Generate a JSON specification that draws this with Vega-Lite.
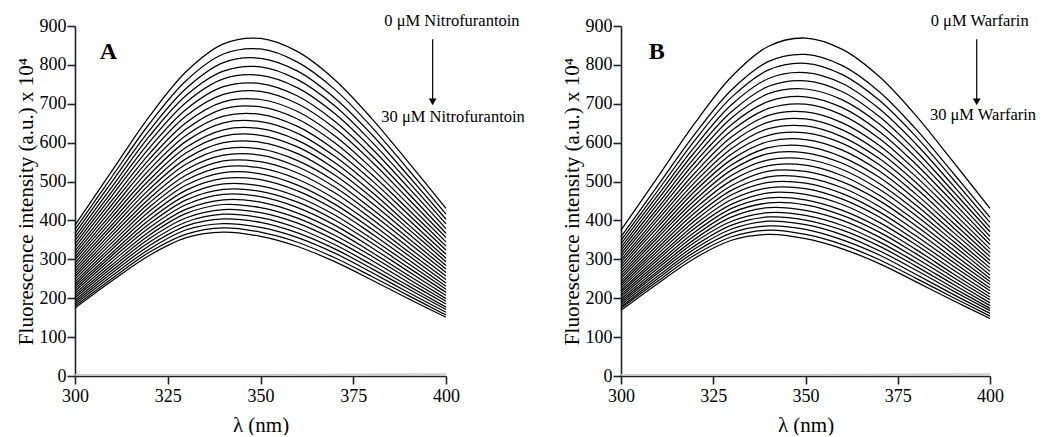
{
"$schema":"https://vega.github.io/schema/vega-lite/v6.json",
"padding":{"left":15,"top":13,"right":0,"bottom":0},
"bounds":"flush",
"spacing":175,
"config":{"font":"Liberation Serif","view":{"stroke":null},
"axis":{"domainColor":"#222","domainWidth":1.6,"tickColor":"#222","tickWidth":1.6,"tickSize":8,"labelFont":"Liberation Serif","labelFontSize":18,"labelColor":"black","titleFont":"Liberation Serif","titleFontSize":21,"titleFontWeight":"normal","titleColor":"black","grid":false,"labelFlush":false,"labelOverlap":false},
"axisY":{"titlePadding":3,"labelPadding":1},
"axisX":{"titlePadding":9,"labelPadding":3}},
"datasets":{
"Z":[{"w":300,"f":3},{"w":350,"f":3},{"w":400,"f":5}],
"A":[
{"c":0,"w":300,"f":388},{"c":0,"w":310,"f":528},{"c":0,"w":320,"f":667},{"c":0,"w":330,"f":783},{"c":0,"w":340,"f":854},{"c":0,"w":350,"f":868},{"c":0,"w":360,"f":834},{"c":0,"w":370,"f":762},{"c":0,"w":380,"f":662},{"c":0,"w":390,"f":548},{"c":0,"w":400,"f":431},
{"c":1,"w":300,"f":377},{"c":1,"w":310,"f":513},{"c":1,"w":320,"f":648},{"c":1,"w":330,"f":760},{"c":1,"w":340,"f":828},{"c":1,"w":350,"f":841},{"c":1,"w":360,"f":807},{"c":1,"w":370,"f":737},{"c":1,"w":380,"f":640},{"c":1,"w":390,"f":529},{"c":1,"w":400,"f":416},
{"c":2,"w":300,"f":367},{"c":2,"w":310,"f":500},{"c":2,"w":320,"f":631},{"c":2,"w":330,"f":740},{"c":2,"w":340,"f":806},{"c":2,"w":350,"f":817},{"c":2,"w":360,"f":784},{"c":2,"w":370,"f":715},{"c":2,"w":380,"f":621},{"c":2,"w":390,"f":513},{"c":2,"w":400,"f":403},
{"c":3,"w":300,"f":357},{"c":3,"w":310,"f":487},{"c":3,"w":320,"f":616},{"c":3,"w":330,"f":722},{"c":3,"w":340,"f":784},{"c":3,"w":350,"f":795},{"c":3,"w":360,"f":762},{"c":3,"w":370,"f":695},{"c":3,"w":380,"f":602},{"c":3,"w":390,"f":498},{"c":3,"w":400,"f":391},
{"c":4,"w":300,"f":348},{"c":4,"w":310,"f":475},{"c":4,"w":320,"f":601},{"c":4,"w":330,"f":704},{"c":4,"w":340,"f":764},{"c":4,"w":350,"f":773},{"c":4,"w":360,"f":741},{"c":4,"w":370,"f":675},{"c":4,"w":380,"f":585},{"c":4,"w":390,"f":483},{"c":4,"w":400,"f":379},
{"c":5,"w":300,"f":339},{"c":5,"w":310,"f":464},{"c":5,"w":320,"f":586},{"c":5,"w":330,"f":686},{"c":5,"w":340,"f":744},{"c":5,"w":350,"f":752},{"c":5,"w":360,"f":720},{"c":5,"w":370,"f":655},{"c":5,"w":380,"f":567},{"c":5,"w":390,"f":468},{"c":5,"w":400,"f":367},
{"c":6,"w":300,"f":331},{"c":6,"w":310,"f":452},{"c":6,"w":320,"f":571},{"c":6,"w":330,"f":669},{"c":6,"w":340,"f":724},{"c":6,"w":350,"f":732},{"c":6,"w":360,"f":700},{"c":6,"w":370,"f":637},{"c":6,"w":380,"f":551},{"c":6,"w":390,"f":454},{"c":6,"w":400,"f":356},
{"c":7,"w":300,"f":322},{"c":7,"w":310,"f":441},{"c":7,"w":320,"f":557},{"c":7,"w":330,"f":652},{"c":7,"w":340,"f":705},{"c":7,"w":350,"f":711},{"c":7,"w":360,"f":680},{"c":7,"w":370,"f":618},{"c":7,"w":380,"f":534},{"c":7,"w":390,"f":440},{"c":7,"w":400,"f":345},
{"c":8,"w":300,"f":314},{"c":8,"w":310,"f":430},{"c":8,"w":320,"f":544},{"c":8,"w":330,"f":635},{"c":8,"w":340,"f":687},{"c":8,"w":350,"f":692},{"c":8,"w":360,"f":661},{"c":8,"w":370,"f":600},{"c":8,"w":380,"f":518},{"c":8,"w":390,"f":427},{"c":8,"w":400,"f":334},
{"c":9,"w":300,"f":306},{"c":9,"w":310,"f":419},{"c":9,"w":320,"f":530},{"c":9,"w":330,"f":619},{"c":9,"w":340,"f":668},{"c":9,"w":350,"f":673},{"c":9,"w":360,"f":642},{"c":9,"w":370,"f":582},{"c":9,"w":380,"f":503},{"c":9,"w":390,"f":414},{"c":9,"w":400,"f":324},
{"c":10,"w":300,"f":299},{"c":10,"w":310,"f":409},{"c":10,"w":320,"f":517},{"c":10,"w":330,"f":604},{"c":10,"w":340,"f":651},{"c":10,"w":350,"f":654},{"c":10,"w":360,"f":624},{"c":10,"w":370,"f":565},{"c":10,"w":380,"f":488},{"c":10,"w":390,"f":401},{"c":10,"w":400,"f":313},
{"c":11,"w":300,"f":291},{"c":11,"w":310,"f":399},{"c":11,"w":320,"f":504},{"c":11,"w":330,"f":588},{"c":11,"w":340,"f":633},{"c":11,"w":350,"f":636},{"c":11,"w":360,"f":606},{"c":11,"w":370,"f":549},{"c":11,"w":380,"f":473},{"c":11,"w":390,"f":388},{"c":11,"w":400,"f":303},
{"c":12,"w":300,"f":284},{"c":12,"w":310,"f":389},{"c":12,"w":320,"f":492},{"c":12,"w":330,"f":574},{"c":12,"w":340,"f":617},{"c":12,"w":350,"f":619},{"c":12,"w":360,"f":589},{"c":12,"w":370,"f":533},{"c":12,"w":380,"f":459},{"c":12,"w":390,"f":377},{"c":12,"w":400,"f":294},
{"c":13,"w":300,"f":276},{"c":13,"w":310,"f":380},{"c":13,"w":320,"f":480},{"c":13,"w":330,"f":559},{"c":13,"w":340,"f":600},{"c":13,"w":350,"f":601},{"c":13,"w":360,"f":572},{"c":13,"w":370,"f":517},{"c":13,"w":380,"f":445},{"c":13,"w":390,"f":365},{"c":13,"w":400,"f":284},
{"c":14,"w":300,"f":269},{"c":14,"w":310,"f":370},{"c":14,"w":320,"f":468},{"c":14,"w":330,"f":545},{"c":14,"w":340,"f":584},{"c":14,"w":350,"f":584},{"c":14,"w":360,"f":554},{"c":14,"w":370,"f":501},{"c":14,"w":380,"f":430},{"c":14,"w":390,"f":353},{"c":14,"w":400,"f":275},
{"c":15,"w":300,"f":262},{"c":15,"w":310,"f":361},{"c":15,"w":320,"f":456},{"c":15,"w":330,"f":531},{"c":15,"w":340,"f":568},{"c":15,"w":350,"f":568},{"c":15,"w":360,"f":538},{"c":15,"w":370,"f":486},{"c":15,"w":380,"f":417},{"c":15,"w":390,"f":342},{"c":15,"w":400,"f":266},
{"c":16,"w":300,"f":256},{"c":16,"w":310,"f":352},{"c":16,"w":320,"f":445},{"c":16,"w":330,"f":517},{"c":16,"w":340,"f":553},{"c":16,"w":350,"f":551},{"c":16,"w":360,"f":522},{"c":16,"w":370,"f":471},{"c":16,"w":380,"f":404},{"c":16,"w":390,"f":330},{"c":16,"w":400,"f":257},
{"c":17,"w":300,"f":249},{"c":17,"w":310,"f":343},{"c":17,"w":320,"f":434},{"c":17,"w":330,"f":504},{"c":17,"w":340,"f":538},{"c":17,"w":350,"f":535},{"c":17,"w":360,"f":506},{"c":17,"w":370,"f":456},{"c":17,"w":380,"f":391},{"c":17,"w":390,"f":319},{"c":17,"w":400,"f":248},
{"c":18,"w":300,"f":242},{"c":18,"w":310,"f":334},{"c":18,"w":320,"f":423},{"c":18,"w":330,"f":491},{"c":18,"w":340,"f":523},{"c":18,"w":350,"f":520},{"c":18,"w":360,"f":491},{"c":18,"w":370,"f":442},{"c":18,"w":380,"f":378},{"c":18,"w":390,"f":309},{"c":18,"w":400,"f":239},
{"c":19,"w":300,"f":236},{"c":19,"w":310,"f":326},{"c":19,"w":320,"f":412},{"c":19,"w":330,"f":478},{"c":19,"w":340,"f":508},{"c":19,"w":350,"f":505},{"c":19,"w":360,"f":476},{"c":19,"w":370,"f":428},{"c":19,"w":380,"f":366},{"c":19,"w":390,"f":298},{"c":19,"w":400,"f":231},
{"c":20,"w":300,"f":230},{"c":20,"w":310,"f":317},{"c":20,"w":320,"f":401},{"c":20,"w":330,"f":465},{"c":20,"w":340,"f":494},{"c":20,"w":350,"f":489},{"c":20,"w":360,"f":461},{"c":20,"w":370,"f":414},{"c":20,"w":380,"f":353},{"c":20,"w":390,"f":288},{"c":20,"w":400,"f":223},
{"c":21,"w":300,"f":224},{"c":21,"w":310,"f":310},{"c":21,"w":320,"f":391},{"c":21,"w":330,"f":453},{"c":21,"w":340,"f":480},{"c":21,"w":350,"f":475},{"c":21,"w":360,"f":447},{"c":21,"w":370,"f":401},{"c":21,"w":380,"f":342},{"c":21,"w":390,"f":278},{"c":21,"w":400,"f":215},
{"c":22,"w":300,"f":218},{"c":22,"w":310,"f":302},{"c":22,"w":320,"f":381},{"c":22,"w":330,"f":441},{"c":22,"w":340,"f":467},{"c":22,"w":350,"f":461},{"c":22,"w":360,"f":433},{"c":22,"w":370,"f":388},{"c":22,"w":380,"f":330},{"c":22,"w":390,"f":268},{"c":22,"w":400,"f":207},
{"c":23,"w":300,"f":212},{"c":23,"w":310,"f":294},{"c":23,"w":320,"f":371},{"c":23,"w":330,"f":429},{"c":23,"w":340,"f":453},{"c":23,"w":350,"f":447},{"c":23,"w":360,"f":419},{"c":23,"w":370,"f":375},{"c":23,"w":380,"f":318},{"c":23,"w":390,"f":258},{"c":23,"w":400,"f":199},
{"c":24,"w":300,"f":206},{"c":24,"w":310,"f":286},{"c":24,"w":320,"f":362},{"c":24,"w":330,"f":418},{"c":24,"w":340,"f":441},{"c":24,"w":350,"f":433},{"c":24,"w":360,"f":406},{"c":24,"w":370,"f":362},{"c":24,"w":380,"f":308},{"c":24,"w":390,"f":249},{"c":24,"w":400,"f":192},
{"c":25,"w":300,"f":201},{"c":25,"w":310,"f":279},{"c":25,"w":320,"f":353},{"c":25,"w":330,"f":407},{"c":25,"w":340,"f":428},{"c":25,"w":350,"f":420},{"c":25,"w":360,"f":393},{"c":25,"w":370,"f":350},{"c":25,"w":380,"f":297},{"c":25,"w":390,"f":240},{"c":25,"w":400,"f":185},
{"c":26,"w":300,"f":195},{"c":26,"w":310,"f":272},{"c":26,"w":320,"f":344},{"c":26,"w":330,"f":396},{"c":26,"w":340,"f":416},{"c":26,"w":350,"f":407},{"c":26,"w":360,"f":380},{"c":26,"w":370,"f":338},{"c":26,"w":380,"f":286},{"c":26,"w":390,"f":231},{"c":26,"w":400,"f":177},
{"c":27,"w":300,"f":190},{"c":27,"w":310,"f":265},{"c":27,"w":320,"f":335},{"c":27,"w":330,"f":386},{"c":27,"w":340,"f":404},{"c":27,"w":350,"f":395},{"c":27,"w":360,"f":368},{"c":27,"w":370,"f":327},{"c":27,"w":380,"f":276},{"c":27,"w":390,"f":223},{"c":27,"w":400,"f":171},
{"c":28,"w":300,"f":185},{"c":28,"w":310,"f":258},{"c":28,"w":320,"f":326},{"c":28,"w":330,"f":376},{"c":28,"w":340,"f":392},{"c":28,"w":350,"f":382},{"c":28,"w":360,"f":356},{"c":28,"w":370,"f":316},{"c":28,"w":380,"f":266},{"c":28,"w":390,"f":214},{"c":28,"w":400,"f":164},
{"c":29,"w":300,"f":180},{"c":29,"w":310,"f":251},{"c":29,"w":320,"f":318},{"c":29,"w":330,"f":365},{"c":29,"w":340,"f":381},{"c":29,"w":350,"f":370},{"c":29,"w":360,"f":344},{"c":29,"w":370,"f":304},{"c":29,"w":380,"f":256},{"c":29,"w":390,"f":206},{"c":29,"w":400,"f":157},
{"c":30,"w":300,"f":175},{"c":30,"w":310,"f":245},{"c":30,"w":320,"f":310},{"c":30,"w":330,"f":356},{"c":30,"w":340,"f":370},{"c":30,"w":350,"f":359},{"c":30,"w":360,"f":333},{"c":30,"w":370,"f":294},{"c":30,"w":380,"f":247},{"c":30,"w":390,"f":198},{"c":30,"w":400,"f":151}
],
"B":[
{"c":0,"w":300,"f":375},{"c":0,"w":310,"f":512},{"c":0,"w":320,"f":650},{"c":0,"w":330,"f":770},{"c":0,"w":340,"f":848},{"c":0,"w":350,"f":869},{"c":0,"w":360,"f":840},{"c":0,"w":370,"f":770},{"c":0,"w":380,"f":669},{"c":0,"w":390,"f":551},{"c":0,"w":400,"f":431},
{"c":1,"w":300,"f":358},{"c":1,"w":310,"f":490},{"c":1,"w":320,"f":622},{"c":1,"w":330,"f":736},{"c":1,"w":340,"f":809},{"c":1,"w":350,"f":827},{"c":1,"w":360,"f":798},{"c":1,"w":370,"f":731},{"c":1,"w":380,"f":634},{"c":1,"w":390,"f":522},{"c":1,"w":400,"f":408},
{"c":2,"w":300,"f":349},{"c":2,"w":310,"f":477},{"c":2,"w":320,"f":606},{"c":2,"w":330,"f":717},{"c":2,"w":340,"f":787},{"c":2,"w":350,"f":804},{"c":2,"w":360,"f":775},{"c":2,"w":370,"f":709},{"c":2,"w":380,"f":615},{"c":2,"w":390,"f":506},{"c":2,"w":400,"f":395},
{"c":3,"w":300,"f":340},{"c":3,"w":310,"f":465},{"c":3,"w":320,"f":590},{"c":3,"w":330,"f":698},{"c":3,"w":340,"f":765},{"c":3,"w":350,"f":780},{"c":3,"w":360,"f":752},{"c":3,"w":370,"f":687},{"c":3,"w":380,"f":596},{"c":3,"w":390,"f":490},{"c":3,"w":400,"f":382},
{"c":4,"w":300,"f":331},{"c":4,"w":310,"f":454},{"c":4,"w":320,"f":576},{"c":4,"w":330,"f":680},{"c":4,"w":340,"f":745},{"c":4,"w":350,"f":759},{"c":4,"w":360,"f":731},{"c":4,"w":370,"f":667},{"c":4,"w":380,"f":578},{"c":4,"w":390,"f":475},{"c":4,"w":400,"f":371},
{"c":5,"w":300,"f":323},{"c":5,"w":310,"f":443},{"c":5,"w":320,"f":562},{"c":5,"w":330,"f":664},{"c":5,"w":340,"f":726},{"c":5,"w":350,"f":738},{"c":5,"w":360,"f":710},{"c":5,"w":370,"f":648},{"c":5,"w":380,"f":561},{"c":5,"w":390,"f":461},{"c":5,"w":400,"f":359},
{"c":6,"w":300,"f":315},{"c":6,"w":310,"f":432},{"c":6,"w":320,"f":549},{"c":6,"w":330,"f":647},{"c":6,"w":340,"f":706},{"c":6,"w":350,"f":718},{"c":6,"w":360,"f":690},{"c":6,"w":370,"f":629},{"c":6,"w":380,"f":544},{"c":6,"w":390,"f":447},{"c":6,"w":400,"f":348},
{"c":7,"w":300,"f":307},{"c":7,"w":310,"f":422},{"c":7,"w":320,"f":536},{"c":7,"w":330,"f":631},{"c":7,"w":340,"f":688},{"c":7,"w":350,"f":699},{"c":7,"w":360,"f":671},{"c":7,"w":370,"f":611},{"c":7,"w":380,"f":528},{"c":7,"w":390,"f":433},{"c":7,"w":400,"f":338},
{"c":8,"w":300,"f":299},{"c":8,"w":310,"f":411},{"c":8,"w":320,"f":522},{"c":8,"w":330,"f":615},{"c":8,"w":340,"f":670},{"c":8,"w":350,"f":679},{"c":8,"w":360,"f":651},{"c":8,"w":370,"f":593},{"c":8,"w":380,"f":512},{"c":8,"w":390,"f":420},{"c":8,"w":400,"f":327},
{"c":9,"w":300,"f":292},{"c":9,"w":310,"f":402},{"c":9,"w":320,"f":510},{"c":9,"w":330,"f":600},{"c":9,"w":340,"f":653},{"c":9,"w":350,"f":661},{"c":9,"w":360,"f":633},{"c":9,"w":370,"f":576},{"c":9,"w":380,"f":497},{"c":9,"w":390,"f":407},{"c":9,"w":400,"f":317},
{"c":10,"w":300,"f":285},{"c":10,"w":310,"f":392},{"c":10,"w":320,"f":498},{"c":10,"w":330,"f":585},{"c":10,"w":340,"f":636},{"c":10,"w":350,"f":643},{"c":10,"w":360,"f":615},{"c":10,"w":370,"f":559},{"c":10,"w":380,"f":482},{"c":10,"w":390,"f":394},{"c":10,"w":400,"f":307},
{"c":11,"w":300,"f":278},{"c":11,"w":310,"f":383},{"c":11,"w":320,"f":486},{"c":11,"w":330,"f":571},{"c":11,"w":340,"f":619},{"c":11,"w":350,"f":625},{"c":11,"w":360,"f":598},{"c":11,"w":370,"f":543},{"c":11,"w":380,"f":467},{"c":11,"w":390,"f":382},{"c":11,"w":400,"f":297},
{"c":12,"w":300,"f":271},{"c":12,"w":310,"f":373},{"c":12,"w":320,"f":475},{"c":12,"w":330,"f":557},{"c":12,"w":340,"f":603},{"c":12,"w":350,"f":608},{"c":12,"w":360,"f":581},{"c":12,"w":370,"f":527},{"c":12,"w":380,"f":453},{"c":12,"w":390,"f":370},{"c":12,"w":400,"f":288},
{"c":13,"w":300,"f":264},{"c":13,"w":310,"f":364},{"c":13,"w":320,"f":463},{"c":13,"w":330,"f":543},{"c":13,"w":340,"f":587},{"c":13,"w":350,"f":591},{"c":13,"w":360,"f":563},{"c":13,"w":370,"f":511},{"c":13,"w":380,"f":439},{"c":13,"w":390,"f":358},{"c":13,"w":400,"f":278},
{"c":14,"w":300,"f":257},{"c":14,"w":310,"f":356},{"c":14,"w":320,"f":452},{"c":14,"w":330,"f":530},{"c":14,"w":340,"f":572},{"c":14,"w":350,"f":574},{"c":14,"w":360,"f":547},{"c":14,"w":370,"f":495},{"c":14,"w":380,"f":425},{"c":14,"w":390,"f":347},{"c":14,"w":400,"f":269},
{"c":15,"w":300,"f":251},{"c":15,"w":310,"f":347},{"c":15,"w":320,"f":441},{"c":15,"w":330,"f":516},{"c":15,"w":340,"f":556},{"c":15,"w":350,"f":558},{"c":15,"w":360,"f":531},{"c":15,"w":370,"f":480},{"c":15,"w":380,"f":412},{"c":15,"w":390,"f":336},{"c":15,"w":400,"f":260},
{"c":16,"w":300,"f":244},{"c":16,"w":310,"f":338},{"c":16,"w":320,"f":430},{"c":16,"w":330,"f":503},{"c":16,"w":340,"f":541},{"c":16,"w":350,"f":542},{"c":16,"w":360,"f":515},{"c":16,"w":370,"f":465},{"c":16,"w":380,"f":398},{"c":16,"w":390,"f":325},{"c":16,"w":400,"f":251},
{"c":17,"w":300,"f":238},{"c":17,"w":310,"f":330},{"c":17,"w":320,"f":420},{"c":17,"w":330,"f":490},{"c":17,"w":340,"f":527},{"c":17,"w":350,"f":526},{"c":17,"w":360,"f":499},{"c":17,"w":370,"f":451},{"c":17,"w":380,"f":386},{"c":17,"w":390,"f":314},{"c":17,"w":400,"f":243},
{"c":18,"w":300,"f":232},{"c":18,"w":310,"f":322},{"c":18,"w":320,"f":409},{"c":18,"w":330,"f":478},{"c":18,"w":340,"f":512},{"c":18,"w":350,"f":511},{"c":18,"w":360,"f":484},{"c":18,"w":370,"f":436},{"c":18,"w":380,"f":373},{"c":18,"w":390,"f":303},{"c":18,"w":400,"f":235},
{"c":19,"w":300,"f":226},{"c":19,"w":310,"f":314},{"c":19,"w":320,"f":399},{"c":19,"w":330,"f":466},{"c":19,"w":340,"f":498},{"c":19,"w":350,"f":496},{"c":19,"w":360,"f":469},{"c":19,"w":370,"f":422},{"c":19,"w":380,"f":360},{"c":19,"w":390,"f":293},{"c":19,"w":400,"f":226},
{"c":20,"w":300,"f":220},{"c":20,"w":310,"f":306},{"c":20,"w":320,"f":389},{"c":20,"w":330,"f":454},{"c":20,"w":340,"f":484},{"c":20,"w":350,"f":482},{"c":20,"w":360,"f":455},{"c":20,"w":370,"f":409},{"c":20,"w":380,"f":348},{"c":20,"w":390,"f":283},{"c":20,"w":400,"f":219},
{"c":21,"w":300,"f":215},{"c":21,"w":310,"f":299},{"c":21,"w":320,"f":380},{"c":21,"w":330,"f":442},{"c":21,"w":340,"f":471},{"c":21,"w":350,"f":467},{"c":21,"w":360,"f":441},{"c":21,"w":370,"f":395},{"c":21,"w":380,"f":337},{"c":21,"w":390,"f":273},{"c":21,"w":400,"f":211},
{"c":22,"w":300,"f":209},{"c":22,"w":310,"f":291},{"c":22,"w":320,"f":370},{"c":22,"w":330,"f":431},{"c":22,"w":340,"f":458},{"c":22,"w":350,"f":453},{"c":22,"w":360,"f":426},{"c":22,"w":370,"f":382},{"c":22,"w":380,"f":325},{"c":22,"w":390,"f":263},{"c":22,"w":400,"f":203},
{"c":23,"w":300,"f":204},{"c":23,"w":310,"f":284},{"c":23,"w":320,"f":361},{"c":23,"w":330,"f":420},{"c":23,"w":340,"f":445},{"c":23,"w":350,"f":440},{"c":23,"w":360,"f":413},{"c":23,"w":370,"f":370},{"c":23,"w":380,"f":314},{"c":23,"w":390,"f":254},{"c":23,"w":400,"f":196},
{"c":24,"w":300,"f":198},{"c":24,"w":310,"f":277},{"c":24,"w":320,"f":352},{"c":24,"w":330,"f":409},{"c":24,"w":340,"f":433},{"c":24,"w":350,"f":426},{"c":24,"w":360,"f":400},{"c":24,"w":370,"f":357},{"c":24,"w":380,"f":303},{"c":24,"w":390,"f":245},{"c":24,"w":400,"f":188},
{"c":25,"w":300,"f":193},{"c":25,"w":310,"f":270},{"c":25,"w":320,"f":344},{"c":25,"w":330,"f":398},{"c":25,"w":340,"f":420},{"c":25,"w":350,"f":413},{"c":25,"w":360,"f":387},{"c":25,"w":370,"f":345},{"c":25,"w":380,"f":292},{"c":25,"w":390,"f":236},{"c":25,"w":400,"f":181},
{"c":26,"w":300,"f":188},{"c":26,"w":310,"f":264},{"c":26,"w":320,"f":335},{"c":26,"w":330,"f":388},{"c":26,"w":340,"f":409},{"c":26,"w":350,"f":401},{"c":26,"w":360,"f":375},{"c":26,"w":370,"f":334},{"c":26,"w":380,"f":282},{"c":26,"w":390,"f":227},{"c":26,"w":400,"f":174},
{"c":27,"w":300,"f":183},{"c":27,"w":310,"f":257},{"c":27,"w":320,"f":327},{"c":27,"w":330,"f":378},{"c":27,"w":340,"f":398},{"c":27,"w":350,"f":389},{"c":27,"w":360,"f":363},{"c":27,"w":370,"f":322},{"c":27,"w":380,"f":272},{"c":27,"w":390,"f":219},{"c":27,"w":400,"f":168},
{"c":28,"w":300,"f":178},{"c":28,"w":310,"f":251},{"c":28,"w":320,"f":319},{"c":28,"w":330,"f":368},{"c":28,"w":340,"f":386},{"c":28,"w":350,"f":377},{"c":28,"w":360,"f":350},{"c":28,"w":370,"f":311},{"c":28,"w":380,"f":261},{"c":28,"w":390,"f":210},{"c":28,"w":400,"f":161},
{"c":29,"w":300,"f":174},{"c":29,"w":310,"f":244},{"c":29,"w":320,"f":311},{"c":29,"w":330,"f":358},{"c":29,"w":340,"f":375},{"c":29,"w":350,"f":364},{"c":29,"w":360,"f":338},{"c":29,"w":370,"f":299},{"c":29,"w":380,"f":251},{"c":29,"w":390,"f":202},{"c":29,"w":400,"f":154},
{"c":30,"w":300,"f":169},{"c":30,"w":310,"f":238},{"c":30,"w":320,"f":303},{"c":30,"w":330,"f":349},{"c":30,"w":340,"f":364},{"c":30,"w":350,"f":353},{"c":30,"w":360,"f":327},{"c":30,"w":370,"f":289},{"c":30,"w":380,"f":242},{"c":30,"w":390,"f":194},{"c":30,"w":400,"f":148}
]},
"hconcat":[
{"width":371,"height":350,
"encoding":{
"x":{"field":"w","type":"quantitative","scale":{"domain":[300,400]},"axis":{"title":"λ (nm)","values":[300,325,350,375,400]}},
"y":{"field":"f","type":"quantitative","scale":{"domain":[0,900]},"axis":{"title":"Fluorescence intensity (a.u.) x 10⁴","values":[0,100,200,300,400,500,600,700,800,900]}}},
"layer":[
{"data":{"name":"Z"},"mark":{"type":"line","color":"#c8c8c8","strokeWidth":1.5}},
{"data":{"name":"A"},"mark":{"type":"line","interpolate":"catmull-rom","color":"black","strokeWidth":1.25},"encoding":{"detail":{"field":"c","type":"nominal"}}},
{"data":{"values":[{"w":309,"f":832}]},"mark":{"type":"text","text":"A","fontSize":24,"fontWeight":"bold","font":"Liberation Serif"}},
{"data":{"values":[{"w":401.6,"f":912}]},"mark":{"type":"text","text":"0 μM Nitrofurantoin","fontSize":16.5,"font":"Liberation Serif"}},
{"data":{"values":[{"w":401.9,"f":666}]},"mark":{"type":"text","text":"30 μM Nitrofurantoin","fontSize":16.5,"font":"Liberation Serif"}},
{"data":{"values":[{"w":396.4,"f":866,"f2":712}]},"mark":{"type":"rule","color":"black","strokeWidth":1.2},"encoding":{"y2":{"field":"f2"}}},
{"data":{"values":[{"w":396.4,"f":705}]},"mark":{"type":"point","shape":"triangle-down","filled":true,"color":"black","size":60,"opacity":1}}
]},
{"width":369,"height":350,
"encoding":{
"x":{"field":"w","type":"quantitative","scale":{"domain":[300,400]},"axis":{"title":"λ (nm)","values":[300,325,350,375,400]}},
"y":{"field":"f","type":"quantitative","scale":{"domain":[0,900]},"axis":{"title":"Fluorescence intensity (a.u.) x 10⁴","values":[0,100,200,300,400,500,600,700,800,900]}}},
"layer":[
{"data":{"name":"Z"},"mark":{"type":"line","color":"#c8c8c8","strokeWidth":1.5}},
{"data":{"name":"B"},"mark":{"type":"line","interpolate":"catmull-rom","color":"black","strokeWidth":1.25},"encoding":{"detail":{"field":"c","type":"nominal"}}},
{"data":{"values":[{"w":309.7,"f":832}]},"mark":{"type":"text","text":"B","fontSize":24,"fontWeight":"bold","font":"Liberation Serif"}},
{"data":{"values":[{"w":397.2,"f":912}]},"mark":{"type":"text","text":"0 μM Warfarin","fontSize":16.5,"font":"Liberation Serif"}},
{"data":{"values":[{"w":398.1,"f":670}]},"mark":{"type":"text","text":"30 μM Warfarin","fontSize":16.5,"font":"Liberation Serif"}},
{"data":{"values":[{"w":396.4,"f":866,"f2":712}]},"mark":{"type":"rule","color":"black","strokeWidth":1.2},"encoding":{"y2":{"field":"f2"}}},
{"data":{"values":[{"w":396.4,"f":705}]},"mark":{"type":"point","shape":"triangle-down","filled":true,"color":"black","size":60,"opacity":1}}
]}
]
}
